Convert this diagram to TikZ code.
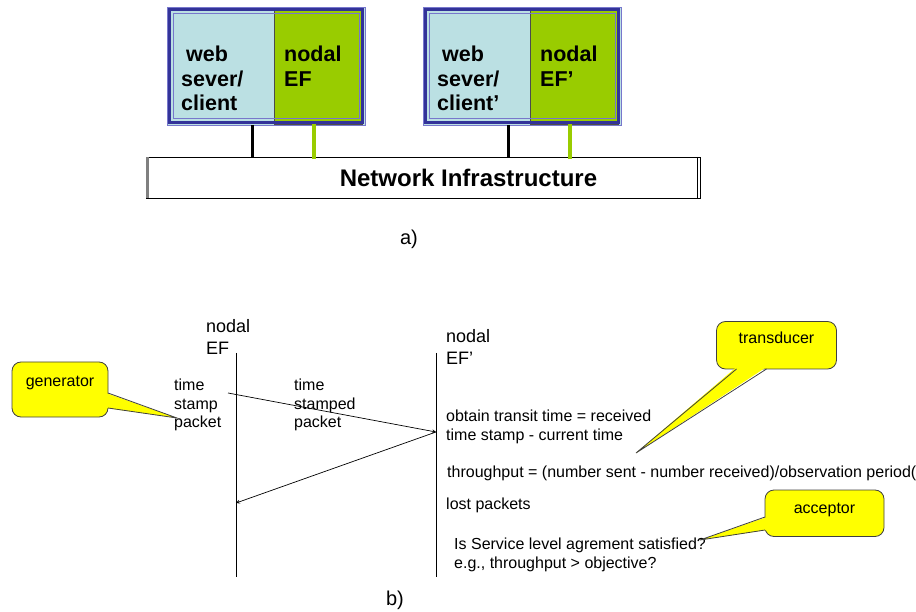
\documentclass[tikz,border=0pt]{standalone}
\usepackage{fontspec}
\setmainfont{Liberation Sans}
\begin{document}
\begin{tikzpicture}[x=1pt,y=-1pt,
  lbl/.style={inner sep=0pt,anchor=base west,align=left},
  boldlbl/.style={lbl,font=\bfseries\fontsize{21.5}{24.5}\selectfont},
  smalllbl/.style={lbl,font=\fontsize{16}{19}\selectfont},
  headlbl/.style={lbl,font=\fontsize{18}{22}\selectfont},
  callout/.style={fill=calloutyellow,draw=black!75,line width=0.8pt},
  msg/.style={-stealth,line width=0.7pt}]
\definecolor{hostblue}{HTML}{BBE0E3}
\definecolor{efgreen}{HTML}{99CC00}
\definecolor{rimdark}{HTML}{333399}
\definecolor{rimlight}{HTML}{7777CC}
\definecolor{calloutyellow}{HTML}{FFFF00}
\useasboundingbox (0,0) rectangle (916,612);

% ---------- a) host boxes on the network ----------
% multi-line labels are placed by the baseline of their last line
\foreach \hx/\gx/\bx/\ex/\nm/\pr in {167/274/252/314/L/{}, 423/530/508/570/R/{’}}{
  \fill[hostblue] (\hx,7) rectangle ++(198,118);
  \fill[efgreen] (\gx,10) rectangle (\hx+195,124);
  \draw[black!70,line width=0.6pt] (\gx,10) rectangle (\hx+195,124);
  \draw[rimlight,line width=0.8pt] (\hx,7) rectangle ++(198,118);
  \draw[rimdark,line width=2.6pt] (\hx+2.6,9.6) rectangle ++(192.8,112.8);
  \draw[rimlight,line width=0.8pt] (\hx+6,13.5) rectangle (\hx+192,118);
  \node[boldlbl] (web\nm) at (\hx+14,111) {\hspace{5pt}web\\sever/\\client\pr};
  \node[boldlbl] (ef\nm) at (\gx+10,86.5) {nodal\\EF\pr};
  \coordinate (hb\nm) at (\bx,125);
  \coordinate (hg\nm) at (\ex,124);
}
\node[draw=black,line width=0.9pt,minimum width=554pt,minimum height=41pt,
      inner sep=0pt] (net) at (423,177.5) {};
\node[font=\bfseries\fontsize{24}{28}\selectfont,anchor=base] (netlbl) at (468.5,187)
      {Network Infrastructure};
\fill[black!50] (146,157) rectangle (149,198);
\draw[line width=0.8pt] (697,157) -- (697,198);
\draw[line width=3pt] (hbL) -- (hbL |- net.north);
\draw[line width=3pt] (hbR) -- (hbR |- net.north);
\draw[efgreen,line width=4.5pt] (hgL) -- ([yshift=-2pt]hgL |- net.north);
\draw[efgreen,line width=4.5pt] (hgR) -- ([yshift=-2pt]hgR |- net.north);
\node[font=\fontsize{20}{24}\selectfont,anchor=base] (capa) at (409,245) {a)};

% ---------- b) message exchange ----------
\coordinate (lt) at (236,353); \coordinate (lb) at (236,577);
\coordinate (rt) at (436,353); \coordinate (rb) at (436,577);
\draw[line width=0.8pt] (lt) -- (lb);
\draw[line width=0.8pt] (rt) -- (rb);
\node[headlbl] (efa) at (206,355) {nodal\\EF};
\node[headlbl] (efb) at (446,365) {nodal\\EF’};

\node[smalllbl] (tsp) at (174,428) {time\\stamp\\packet};
\node[smalllbl] (tsd) at (294,428) {time\\stamped\\packet};

\coordinate (snd) at (228,393);
\coordinate (rcv) at (436,432);
\coordinate (back) at (236,503);
\draw[msg] (snd) -- (rcv);
\draw[msg] (rcv) -- (back);

\node[smalllbl] (tr) at (446,440.5) {obtain transit time = received\\time stamp - current time};
\node[smalllbl] (thr) at (447,477.5) {throughput = (number sent - number received)/observation period(};
\node[smalllbl] (lost) at (446,509) {lost packets};
\node[smalllbl] (sla) at (454,568) {Is Service level agrement satisfied?\\e.g., throughput > objective?};

% callouts
\coordinate (gtip) at (177,418);
\draw[callout,rounded corners=9pt] (12,362) rectangle (108,417);
\fill[calloutyellow] (106,393) -- (gtip) -- (106,408) -- cycle;
\draw[black!75,line width=0.8pt] (108,393) -- (gtip) -- (108,408);
\node[font=\fontsize{16}{19}\selectfont,anchor=base] (gen) at (60,386) {generator};

\coordinate (ttip) at (636,453);
\draw[callout,rounded corners=9pt] (716.5,321.5) rectangle (836.5,369);
\fill[calloutyellow] (736.5,367) -- (ttip) -- (766.5,367) -- cycle;
\draw[black!75,line width=0.8pt] (736.5,369) -- (ttip) -- (766.5,369);
\node[font=\fontsize{16}{19}\selectfont,anchor=base] (trd) at (776.5,344) {transducer};

\coordinate (atip) at (700,540);
\draw[callout,rounded corners=9pt] (765,490) rectangle (884,536.5);
\fill[calloutyellow] (767,517) -- (atip) -- (767,530) -- cycle;
\draw[black!75,line width=0.8pt] (765,517) -- (atip) -- (765,530);
\node[font=\fontsize{16}{19}\selectfont,anchor=base] (acc) at (824.5,513) {acceptor};

\node[font=\fontsize{20}{24}\selectfont,anchor=base] (capb) at (395,605) {b)};
\end{tikzpicture}
\end{document}
